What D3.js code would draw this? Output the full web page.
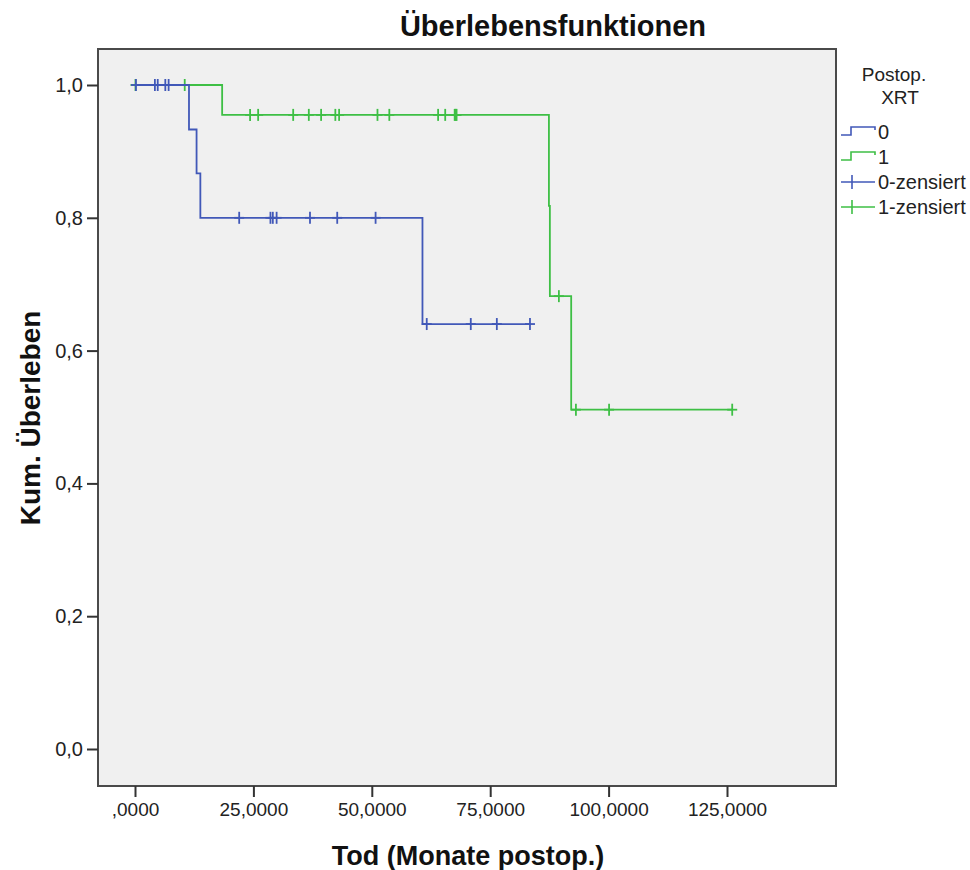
<!DOCTYPE html>
<html>
<head>
<meta charset="utf-8">
<script src="https://cdn.jsdelivr.net/npm/d3@7"></script>
<style>
  html, body { margin: 0; padding: 0; background: #fff; }
  svg { display: block; font-family: "Liberation Sans", Arial, sans-serif; }
</style>
</head>
<body>
<svg id="chart" width="970" height="870"></svg>
<script>
// ---- Data ----
const blueTimes = [0, 11.4, 13.0, 13.8, 60.7, 83.4];
const blueSurv  = [1, 0.933, 0.867, 0.8, 0.64, 0.64];
const greenTimes = [0, 18.4, 87.4, 87.6, 92.1, 126.1];
const greenSurv  = [1, 0.955, 0.818, 0.682, 0.511, 0.511];

const blueCensT = [0.2, 4.2, 4.8, 6.4, 7.1, 22.0, 28.6, 29.1, 29.9, 36.95, 42.7, 50.8, 61.6, 70.9, 76.4, 83.4];
const blueCensS = [1, 1, 1, 1, 1, 0.8, 0.8, 0.8, 0.8, 0.8, 0.8, 0.8, 0.64, 0.64, 0.64, 0.64];
const greenCensT = [0.1, 10.5, 24.3, 26.0, 33.4, 36.7, 39.3, 42.3, 43.1, 51.2, 53.7, 64.0, 65.5, 67.5, 67.7, 67.9, 89.5, 93.1, 100.1, 126.1];
const greenCensS = [1, 1, 0.955, 0.955, 0.955, 0.955, 0.955, 0.955, 0.955, 0.955, 0.955, 0.955, 0.955, 0.955, 0.955, 0.955, 0.682, 0.511, 0.511, 0.511];

const xTicks = [0, 25, 50, 75, 100, 125];
const yTicks = [0, 0.2, 0.4, 0.6, 0.8, 1.0];
const legendLabels = ["0", "1", "0-zensiert", "1-zensiert"];

const title = "Überlebensfunktionen";
const xTitle = "Tod (Monate postop.)";
const yTitle = "Kum. Überleben";
const legendTitle = ["Postop.", "XRT"];

// ---- Layout ----
const frame = {x0: 98, y0: 49, x1: 836, y1: 786};
const blue = "#4158b8", green = "#3ebf45";

const svg = d3.select("#chart");
const x = d3.scaleLinear().domain([0, 125]).range([135, 727]);
const y = d3.scaleLinear().domain([0, 1]).range([749, 85]);

svg.append("rect")
  .attr("x", frame.x0).attr("y", frame.y0)
  .attr("width", frame.x1 - frame.x0).attr("height", frame.y1 - frame.y0)
  .attr("fill", "#f0f0f0").attr("stroke", "#4a4a4a").attr("stroke-width", 2);

// axes
const fmtX = d => d === 0 ? ",0000" : d + ",0000";
const fmtY = d => d3.format(".1f")(d).replace(".", ",");

const xAxis = d3.axisBottom(x).tickValues(xTicks).tickFormat(fmtX).tickSize(11).tickPadding(6);
const gx = svg.append("g").attr("transform", `translate(0,${frame.y1})`).call(xAxis);
gx.select(".domain").remove();
gx.selectAll(".tick line").attr("stroke", "#333").attr("stroke-width", 2);
gx.selectAll(".tick text").attr("font-size", 19).attr("fill", "#222")
  .attr("font-family", "Liberation Sans, Arial, sans-serif");

const yAxis = d3.axisLeft(y).tickValues(yTicks).tickFormat(fmtY).tickSize(11).tickPadding(4);
const gy = svg.append("g").attr("transform", `translate(${frame.x0},0)`).call(yAxis);
gy.select(".domain").remove();
gy.selectAll(".tick line").attr("stroke", "#333").attr("stroke-width", 2);
gy.selectAll(".tick text").attr("font-size", 20).attr("fill", "#222")
  .attr("font-family", "Liberation Sans, Arial, sans-serif");

// curves
const line = d3.line().x(d => x(d[0])).y(d => y(d[1])).curve(d3.curveStepAfter);
const plot = svg.append("g");

function drawGroup(times, surv, censT, censS, color) {
  plot.append("path")
    .attr("d", line(times.map((t, i) => [t, surv[i]])))
    .attr("fill", "none").attr("stroke", color).attr("stroke-width", 1.8);
  const g = plot.append("g").attr("stroke", color).attr("stroke-width", 1.8);
  censT.forEach((t, i) => {
    const cx = x(t), cy = y(censS[i]);
    g.append("line").attr("x1", cx).attr("x2", cx).attr("y1", cy - 6).attr("y2", cy + 6);
    g.append("line").attr("x1", cx - 5).attr("x2", cx + 5).attr("y1", cy).attr("y2", cy);
  });
}
drawGroup(greenTimes, greenSurv, greenCensT, greenCensS, green);
drawGroup(blueTimes, blueSurv, blueCensT, blueCensS, blue);

// titles
svg.append("text").attr("x", 553).attr("y", 36).attr("text-anchor", "middle")
  .attr("font-size", 29).attr("font-weight", "bold").attr("fill", "#111").text(title);
svg.append("text").attr("x", 468).attr("y", 865).attr("text-anchor", "middle")
  .attr("font-size", 27).attr("font-weight", "bold").attr("fill", "#111").text(xTitle);
svg.append("text").attr("transform", "translate(40,418) rotate(-90)").attr("text-anchor", "middle")
  .attr("font-size", 28).attr("font-weight", "bold").attr("fill", "#111").text(yTitle);

// legend
const lg = svg.append("g");
lg.append("text").attr("x", 894).attr("y", 81).attr("text-anchor", "middle")
  .attr("font-size", 19).attr("fill", "#222").text(legendTitle[0]);
lg.append("text").attr("x", 900).attr("y", 104).attr("text-anchor", "middle")
  .attr("font-size", 19).attr("fill", "#222").text(legendTitle[1]);

const legColors = [blue, green, blue, green];
const legY = [132, 157, 182, 207];
legendLabels.forEach((lab, i) => {
  const cy = legY[i];
  if (i < 2) {
    lg.append("path")
      .attr("d", `M841,${cy + 3}H851V${cy - 5}H875V${cy - 2}`)
      .attr("fill", "none").attr("stroke", legColors[i]).attr("stroke-width", 1.6);
  } else {
    lg.append("line").attr("x1", 841).attr("x2", 875).attr("y1", cy).attr("y2", cy)
      .attr("stroke", legColors[i]).attr("stroke-width", 1.6);
    lg.append("line").attr("x1", 852).attr("x2", 852).attr("y1", cy - 7).attr("y2", cy + 7)
      .attr("stroke", legColors[i]).attr("stroke-width", 1.6);
  }
  lg.append("text").attr("x", 878).attr("y", cy + 7)
    .attr("font-size", 20).attr("fill", "#222").text(lab);
});
</script>
</body>
</html>
